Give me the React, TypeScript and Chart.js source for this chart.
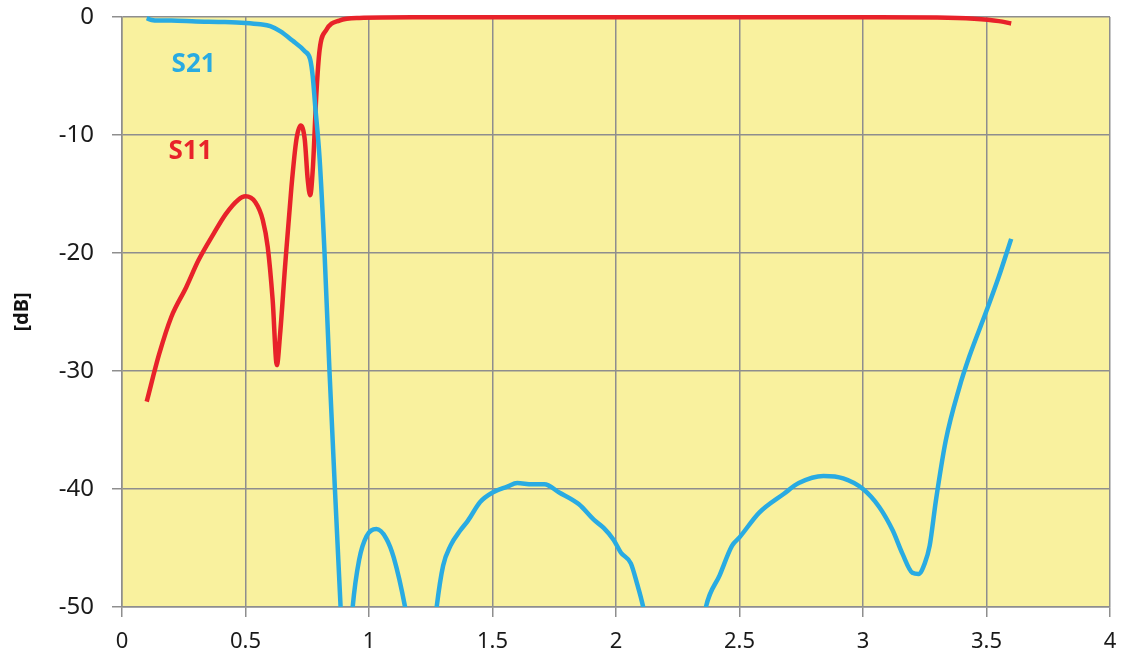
import React, { useEffect, useRef } from 'react';
import { Chart, registerables } from 'chart.js';

Chart.register(...registerables);

// Frequency axis values and dB values
const s21Freq = [0.10, 0.12, 0.15, 0.20, 0.30, 0.40, 0.50, 0.56, 0.60, 0.64, 0.69, 0.74, 0.762, 0.772, 0.782, 0.80, 0.82, 0.84, 0.862, 0.885, 0.90, 0.915, 0.934, 0.96, 0.99, 1.03, 1.07, 1.10, 1.146, 1.20, 1.24, 1.274, 1.30, 1.33, 1.37, 1.40, 1.45, 1.50, 1.56, 1.60, 1.66, 1.71, 1.77, 1.85, 1.91, 1.95, 1.99, 2.02, 2.06, 2.085, 2.11, 2.17, 2.24, 2.31, 2.364, 2.42, 2.47, 2.50, 2.58, 2.68, 2.74, 2.84, 2.92, 3.00, 3.065, 3.12, 3.16, 3.20, 3.225, 3.25, 3.27, 3.295, 3.335, 3.39, 3.43, 3.50, 3.55, 3.60];
const s21Db = [-0.10, -0.25, -0.30, -0.30, -0.38, -0.42, -0.50, -0.62, -0.78, -1.2, -2.0, -2.9, -3.6, -5, -7.5, -12, -20, -30, -40, -50, -56, -56, -50, -46, -44, -43.4, -44.2, -45.8, -50, -57, -57, -50, -46.5, -44.8, -43.5, -42.7, -41.1, -40.3, -39.8, -39.5, -39.6, -39.6, -40.3, -41.3, -42.6, -43.3, -44.3, -45.4, -46.3, -48, -50, -57, -60, -57, -50, -47.3, -44.8, -44.1, -42, -40.4, -39.5, -38.9, -39.1, -40, -41.5, -43.5, -45.5, -47.1, -47.2, -46.3, -44.8, -41, -35.9, -31.4, -28.8, -24.9, -22, -18.8];

const s11Freq = [0.10, 0.15, 0.20, 0.26, 0.31, 0.37, 0.42, 0.47, 0.50, 0.54, 0.57, 0.59, 0.61, 0.627, 0.64, 0.66, 0.686, 0.706, 0.723, 0.74, 0.752, 0.762, 0.773, 0.787, 0.80, 0.827, 0.88, 0.96, 1.2, 2.0, 3.0, 3.3, 3.45, 3.55, 3.6];
const s11Db = [-32.6, -28.6, -25.4, -22.9, -20.6, -18.4, -16.7, -15.5, -15.2, -15.7, -17.2, -19.5, -24, -29.5, -26.9, -21.2, -14.4, -10.4, -9.2, -10.4, -13.8, -15.1, -12.7, -6.5, -2.8, -1.1, -0.3, -0.08, -0.03, -0.02, -0.03, -0.05, -0.15, -0.35, -0.55];

const xTicks = [0, 0.5, 1, 1.5, 2, 2.5, 3, 3.5, 4];
const yTicks = [0, -10, -20, -30, -40, -50];
const seriesNames = ['S21', 'S11'];
const seriesColors = ['#29ABE2', '#E8222A'];
// label anchor positions in data units (freq, dB)
const labelFreq = [0.29, 0.277];
const labelDb = [-4.0, -11.4];

const yAxisTitle = '[dB]';

const GRID = '#8E8E8E';
const PLOT_BG = '#F9F19E';

export default function App() {
  const ref = useRef<HTMLCanvasElement>(null);

  useEffect(() => {
    const bgPlugin = {
      id: 'plotBg',
      beforeDraw(chart: any) {
        const { ctx, chartArea } = chart;
        ctx.save();
        ctx.fillStyle = PLOT_BG;
        ctx.fillRect(chartArea.left, chartArea.top, chartArea.right - chartArea.left, chartArea.bottom - chartArea.top);
        ctx.restore();
      },
    };
    const labelPlugin = {
      id: 'seriesLabels',
      afterDatasetsDraw(chart: any) {
        const { ctx, scales } = chart;
        ctx.save();
        ctx.font = 'bold 26px "Noto Sans", "Open Sans", sans-serif';
        ctx.textAlign = 'center';
        ctx.textBaseline = 'middle';
        seriesNames.forEach((name, i) => {
          ctx.fillStyle = seriesColors[i];
          ctx.fillText(name, scales.x.getPixelForValue(labelFreq[i]), scales.y.getPixelForValue(labelDb[i]));
        });
        ctx.restore();
      },
    };

    const mk = (xs: number[], ys: number[]) => xs.map((x, i) => ({ x, y: ys[i] }));

    const chart = new Chart(ref.current!, {
      type: 'line',
      data: {
        datasets: [
          {
            label: seriesNames[0],
            data: mk(s21Freq, s21Db),
            borderColor: seriesColors[0],
            borderWidth: 4.5,
            pointRadius: 0,
            cubicInterpolationMode: 'monotone',
            clip: { left: 5, right: 5, top: 5, bottom: 0 } as any,
          },
          {
            label: seriesNames[1],
            data: mk(s11Freq, s11Db),
            borderColor: seriesColors[1],
            borderWidth: 4.5,
            pointRadius: 0,
            cubicInterpolationMode: 'monotone',
            clip: { left: 5, right: 5, top: 5, bottom: 0 } as any,
          },
        ],
      },
      options: {
        animation: false,
        responsive: true,
        maintainAspectRatio: false,
        devicePixelRatio: 1,
        layout: { padding: { left: 0, top: 17, right: 11, bottom: 0 } },
        plugins: { legend: { display: false }, tooltip: { enabled: false } },
        scales: {
          x: {
            type: 'linear',
            min: 0,
            max: 4,
            afterBuildTicks: (scale: any) => {
              scale.ticks = xTicks.map((v) => ({ value: v }));
            },
            afterFit: (scale: any) => {
              scale.height = 55;
              scale.paddingLeft = 0;
              scale.paddingRight = 0;
            },
            ticks: {
              color: '#1a1a1a',
              font: { family: '"Noto Sans", "Open Sans", sans-serif', size: 22 },
              padding: 12,
              maxRotation: 0,
              autoSkip: false,
              callback: (v: any) => String(v),
            },
            grid: { color: GRID, lineWidth: 1.5, tickLength: 10, tickColor: GRID },
            border: { color: GRID, width: 1.5 },
          },
          y: {
            type: 'linear',
            min: -50,
            max: 0,
            afterBuildTicks: (scale: any) => {
              scale.ticks = yTicks.slice().reverse().map((v) => ({ value: v }));
            },
            afterFit: (scale: any) => {
              scale.width = 122;
              scale.paddingTop = 0;
              scale.paddingBottom = 0;
            },
            ticks: {
              color: '#1a1a1a',
              font: { family: '"Noto Sans", "Open Sans", sans-serif', size: 24 },
              padding: 18,
              autoSkip: false,
              callback: (v: any) => String(v),
            },
            grid: { color: GRID, lineWidth: 1.5, tickLength: 10, tickColor: GRID },
            border: { color: GRID, width: 1.5 },
            title: {
              display: true,
              text: yAxisTitle,
              color: '#111',
              font: { family: '"Noto Sans", "Open Sans", sans-serif', size: 20, weight: 'bold' },
              padding: { top: 10, bottom: 0 },
            },
          },
        },
      },
      plugins: [bgPlugin, labelPlugin],
    });
    return () => chart.destroy();
  }, []);

  return (
    <div style={{ position: 'fixed', left: 0, top: 0, width: 1121, height: 662, background: '#fff' }}>
      <canvas ref={ref} />
    </div>
  );
}
